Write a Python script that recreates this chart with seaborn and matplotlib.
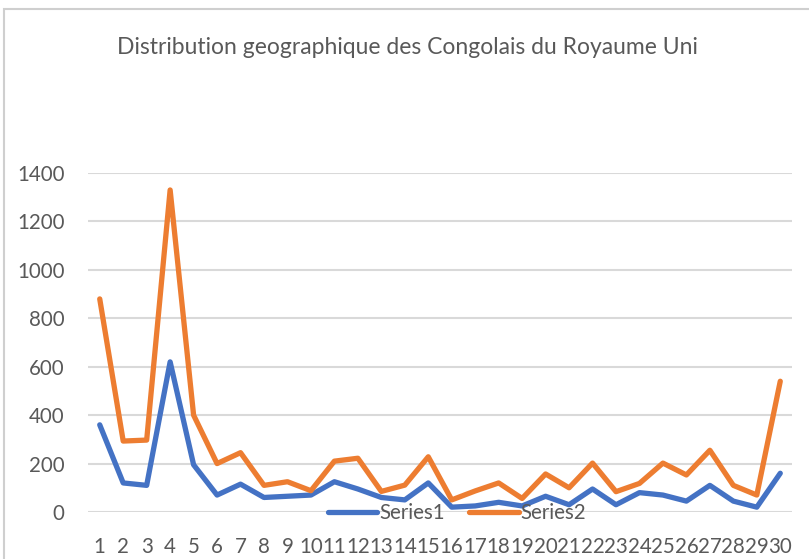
import pandas as pd
import numpy as np
import matplotlib
matplotlib.use('Agg')
import matplotlib.pyplot as plt
from matplotlib.patches import Rectangle
import seaborn as sns

# data
categories = list(range(1, 31))
series1 = [360, 120, 110, 620, 195, 70, 115, 60, 65, 70,
           125, 95, 60, 50, 120, 20, 25, 40, 25, 65,
           30, 95, 30, 80, 70, 45, 110, 45, 20, 160]
series2 = [880, 293, 297, 1330, 400, 200, 245, 110, 125, 88,
           210, 222, 85, 111, 228, 50, 87, 120, 56, 157,
           100, 202, 84, 118, 202, 153, 255, 110, 70, 540]
series_names = ['Series1', 'Series2']
title = 'Distribution geographique des Congolais du Royaume Uni'

df = pd.DataFrame({
    'cat': categories * 2,
    'value': series1 + series2,
    'series': [series_names[0]] * 30 + [series_names[1]] * 30,
})

sns.set_theme(style='white')
plt.rcParams['font.family'] = ['Lato', 'DejaVu Sans']

fig = plt.figure(figsize=(8.09, 5.59), dpi=100)
ax = fig.add_axes([88 / 809, 1 - 512 / 559, 704 / 809, 339 / 559])

sns.lineplot(data=df, x='cat', y='value', hue='series',
             palette=['#4472C4', '#ED7D31'], linewidth=3.8, ax=ax,
             legend=True)

ax.set_xlim(0.5, 30.5)
ax.set_ylim(0, 1400)
ax.set_xticks(categories)
ax.set_xticklabels([str(c) for c in categories])
ax.set_yticks(range(0, 1401, 200))
ax.yaxis.grid(True, color='#D9D9D9', linewidth=1.5)
ax.set_axisbelow(True)
for s in ax.spines.values():
    s.set_visible(False)
ax.tick_params(axis='both', length=0, labelsize=14.8, colors='#595959')
ax.tick_params(axis='x', pad=18)
ax.tick_params(axis='y', pad=17)
ax.set_xlabel('')
ax.set_ylabel('')

leg = ax.legend(loc='center', bbox_to_anchor=(457 / 809, 1 - 513 / 559),
                bbox_transform=fig.transFigure, ncol=2, frameon=False,
                fontsize=14.8, handlelength=2.4, columnspacing=1.2,
                handletextpad=0.1)
for t in leg.get_texts():
    t.set_color('#595959')

fig.text(407 / 809, 1 - 47 / 559, title, ha='center', va='center',
         fontsize=16.5, color='#595959')

# chart area border (top and left edges visible)
border = Rectangle((4 / 809, -0.2), 1.2, 1.2 - 9 / 559,
                   transform=fig.transFigure, fill=False,
                   edgecolor='#CFCFCF', linewidth=1.5, zorder=10)
fig.add_artist(border)

fig.savefig('out.png', dpi=100)
